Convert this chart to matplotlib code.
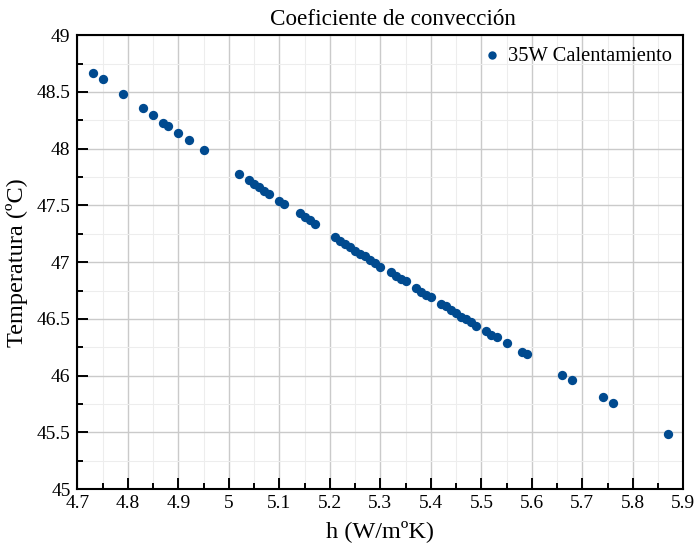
import matplotlib
matplotlib.use("Agg")
import matplotlib.pyplot as plt
from matplotlib.ticker import MultipleLocator

# values
h_vals = [4.73, 4.75, 4.79, 4.83, 4.85, 4.87, 4.88, 4.90, 4.92, 4.95,
          5.02, 5.04, 5.05, 5.06, 5.07, 5.08, 5.10, 5.11, 5.14, 5.15,
          5.16, 5.17, 5.21, 5.22, 5.23, 5.24, 5.25, 5.26, 5.27, 5.28,
          5.29, 5.30, 5.32, 5.33, 5.34, 5.35, 5.37, 5.38, 5.39, 5.40,
          5.42, 5.43, 5.44, 5.45, 5.46, 5.47, 5.48, 5.49, 5.51, 5.52,
          5.53, 5.55, 5.58, 5.59, 5.66, 5.68, 5.74, 5.76, 5.87]
temp_vals = [48.67, 48.61, 48.48, 48.36, 48.30, 48.23, 48.20, 48.14, 48.08, 47.99,
             47.78, 47.72, 47.69, 47.66, 47.63, 47.60, 47.54, 47.51, 47.43, 47.40,
             47.37, 47.34, 47.22, 47.19, 47.16, 47.13, 47.10, 47.07, 47.05, 47.02,
             46.99, 46.96, 46.91, 46.88, 46.85, 46.83, 46.77, 46.74, 46.71, 46.69,
             46.63, 46.61, 46.58, 46.55, 46.52, 46.50, 46.47, 46.44, 46.39, 46.36,
             46.34, 46.29, 46.21, 46.19, 46.01, 45.96, 45.81, 45.76, 45.49]
x_ticks = [4.7, 4.8, 4.9, 5.0, 5.1, 5.2, 5.3, 5.4, 5.5, 5.6, 5.7, 5.8, 5.9]
x_labels = ["4.7", "4.8", "4.9", "5", "5.1", "5.2", "5.3", "5.4", "5.5", "5.6", "5.7", "5.8", "5.9"]
y_ticks = [45, 45.5, 46, 46.5, 47, 47.5, 48, 48.5, 49]
y_labels = ["45", "45.5", "46", "46.5", "47", "47.5", "48", "48.5", "49"]

plt.rcParams['font.family'] = ['Liberation Serif', 'DejaVu Serif']

fig = plt.figure(figsize=(6.98, 5.49), dpi=100)
ax = fig.add_axes([0.111, 0.109, 0.868, 0.827])

ax.scatter(h_vals, temp_vals, s=45, color='#004a8f', linewidths=0, zorder=3,
           label='35W Calentamiento')

ax.set_xlim(4.7, 5.9)
ax.set_ylim(45, 49)
ax.set_xticks(x_ticks)
ax.set_xticklabels(x_labels)
ax.set_yticks(y_ticks)
ax.set_yticklabels(y_labels)
ax.xaxis.set_minor_locator(MultipleLocator(0.05))
ax.yaxis.set_minor_locator(MultipleLocator(0.25))

ax.grid(which='major', color='#cacaca', linewidth=1.0)
ax.grid(which='minor', color='#ededed', linewidth=0.8)
ax.set_axisbelow(True)

ax.tick_params(which='both', direction='in', top=False, right=False, labelsize=14, width=1.4)
ax.tick_params(which='major', length=8)
ax.tick_params(which='minor', length=4.5)
ax.tick_params(axis='y', which='both', pad=5)
ax.tick_params(axis='x', which='both', pad=4)
for sp in ax.spines.values():
    sp.set_linewidth(1.5)

ax.set_xlabel('h (W/mºK)', fontsize=17.5, labelpad=6)
ax.set_ylabel('Temperatura (ºC)', fontsize=17.5, labelpad=6)
ax.set_title('Coeficiente de convección', fontsize=16.7, pad=7, x=0.52)
ax.legend(loc='upper right', frameon=False, fontsize=14.8, handlelength=1.0,
          handletextpad=0.3, borderaxespad=0.15, markerscale=0.9)

fig.savefig('out.png', dpi=100)
